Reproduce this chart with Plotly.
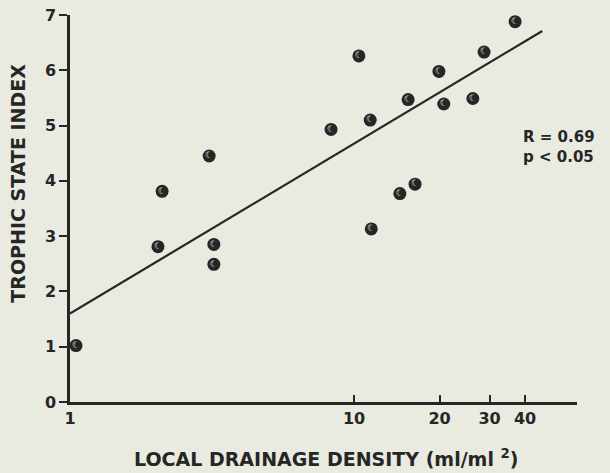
import plotly.graph_objects as go

# values
density = [1.05, 2.04, 2.11, 3.09, 3.21, 3.21, 8.3, 10.4, 11.4, 11.5,
           14.5, 15.5, 16.4, 19.9, 20.7, 26.2, 28.7, 36.9]
tsi = [1.02, 2.81, 3.81, 4.45, 2.85, 2.49, 4.93, 6.26, 5.10, 3.13,
       3.77, 5.47, 3.94, 5.98, 5.39, 5.49, 6.33, 6.88]

fit_x = [1.0, 46.0]
fit_y = [1.6, 6.71]

x_ticks = [1, 10, 20, 30, 40]
y_ticks = [0, 1, 2, 3, 4, 5, 6, 7]

INK = "#262626"
BG = "#e9ebe1"
FONT = "DejaVu Sans, Liberation Sans, Arial, sans-serif"

fig = go.Figure()
fig.add_trace(
    go.Scatter(
        x=fit_x,
        y=fit_y,
        mode="lines",
        line={"color": INK, "width": 2.2},
        hoverinfo="skip",
    )
)
fig.add_trace(
    go.Scatter(
        x=density,
        y=tsi,
        mode="markers+text",
        text=["\u263e"] * len(density),
        textposition="middle center",
        textfont={"family": "DejaVu Sans", "size": 9, "color": BG},
        marker={"size": 13, "color": INK, "line": {"width": 0}},
        hovertemplate="%{x}, %{y}<extra></extra>",
    )
)

fig.update_layout(
    width=610,
    height=473,
    showlegend=False,
    paper_bgcolor=BG,
    plot_bgcolor=BG,
    font={"family": FONT, "color": INK, "size": 14},
    margin={"l": 70, "r": 33, "t": 15, "b": 71, "autoexpand": False},
    annotations=[
        {
            "text": "<b>R = 0.69<br>p < 0.05</b>",
            "xref": "paper", "yref": "paper",
            "x": 0.89, "y": 0.66,
            "xanchor": "left", "yanchor": "middle",
            "align": "left", "showarrow": False,
            "font": {"size": 15, "color": INK},
        },
        {
            "text": "<b>TROPHIC STATE INDEX</b>",
            "xref": "paper", "yref": "paper",
            "x": -0.102, "y": 0.565,
            "xanchor": "center", "yanchor": "middle",
            "textangle": -90, "showarrow": False,
            "font": {"size": 19, "color": INK},
        },
        {
            "text": "<b>LOCAL DRAINAGE DENSITY (ml/ml <sup>2</sup>)</b>",
            "xref": "paper", "yref": "paper",
            "x": 0.505, "y": -0.145,
            "xanchor": "center", "yanchor": "middle",
            "showarrow": False,
            "font": {"size": 19, "color": INK},
        },
    ],
)
fig.update_xaxes(
    type="log",
    range=[0, 1.785],
    tickvals=x_ticks,
    ticktext=[f"<b>{v}</b>" for v in x_ticks],
    tickfont={"size": 16},
    ticks="inside",
    ticklen=7,
    tickwidth=1.5,
    tickcolor=INK,
    showline=True,
    linecolor=INK,
    linewidth=2.5,
    showgrid=False,
    zeroline=False,
    ticklabeloverflow="allow",
)
fig.update_yaxes(
    range=[0, 7],
    tickvals=y_ticks,
    ticktext=[f"<b>{v}</b>" for v in y_ticks],
    tickfont={"size": 16},
    ticks="outside",
    ticklen=8,
    tickwidth=1.5,
    tickcolor=INK,
    showline=True,
    linecolor=INK,
    linewidth=2.5,
    showgrid=False,
    zeroline=False,
    ticklabeloverflow="allow",
)

# drop the default 8px body margin so the figure fills the window
fig.write_html(
    "out.html",
    config={"displayModeBar": False},
    post_script="document.body.style.margin = '0';",
)
